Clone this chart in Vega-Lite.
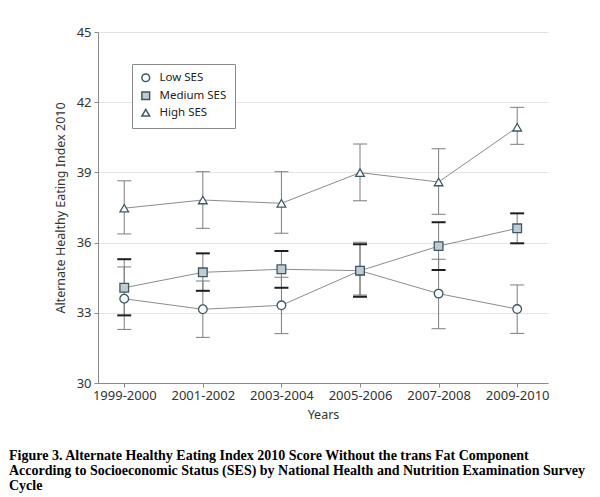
{
  "$schema": "https://vega.github.io/schema/vega-lite/v6.json",
  "width": 450,
  "height": 351,
  "autosize": "none",
  "padding": {"left": 98, "top": 32, "right": 52, "bottom": 114},
  "background": "white",
  "title": {
    "text": ["Figure 3. Alternate Healthy Eating Index 2010 Score Without the trans Fat Component", "According to Socioeconomic Status (SES) by National Health and Nutrition Examination Survey", "Cycle"],
    "orient": "bottom",
    "anchor": "start",
    "frame": "group",
    "dx": -89,
    "offset": 28,
    "font": "Liberation Serif",
    "fontSize": 14,
    "fontWeight": "bold",
    "color": "#000",
    "lineHeight": 15
  },
  "data": {
    "values": [
      {"cycle": "1999-2000", "ses": "Low SES", "value": 33.6, "lo": 32.29, "hi": 34.96},
      {"cycle": "2001-2002", "ses": "Low SES", "value": 33.15, "lo": 31.95, "hi": 34.36},
      {"cycle": "2003-2004", "ses": "Low SES", "value": 33.32, "lo": 32.11, "hi": 34.52},
      {"cycle": "2005-2006", "ses": "Low SES", "value": 34.8, "lo": 33.76, "hi": 36.01},
      {"cycle": "2007-2008", "ses": "Low SES", "value": 33.82, "lo": 32.32, "hi": 35.29},
      {"cycle": "2009-2010", "ses": "Low SES", "value": 33.16, "lo": 32.12, "hi": 34.19},
      {"cycle": "1999-2000", "ses": "Medium SES", "value": 34.07, "lo": 32.89, "hi": 35.29},
      {"cycle": "2001-2002", "ses": "Medium SES", "value": 34.73, "lo": 33.94, "hi": 35.54},
      {"cycle": "2003-2004", "ses": "Medium SES", "value": 34.86, "lo": 34.07, "hi": 35.64},
      {"cycle": "2005-2006", "ses": "Medium SES", "value": 34.8, "lo": 33.69, "hi": 35.93},
      {"cycle": "2007-2008", "ses": "Medium SES", "value": 35.85, "lo": 34.83, "hi": 36.87},
      {"cycle": "2009-2010", "ses": "Medium SES", "value": 36.61, "lo": 35.97, "hi": 37.25},
      {"cycle": "1999-2000", "ses": "High SES", "value": 37.47, "lo": 36.37, "hi": 38.64},
      {"cycle": "2001-2002", "ses": "High SES", "value": 37.82, "lo": 36.61, "hi": 39.03},
      {"cycle": "2003-2004", "ses": "High SES", "value": 37.68, "lo": 36.4, "hi": 39.03},
      {"cycle": "2005-2006", "ses": "High SES", "value": 38.99, "lo": 37.79, "hi": 40.21},
      {"cycle": "2007-2008", "ses": "High SES", "value": 38.59, "lo": 37.21, "hi": 40.01},
      {"cycle": "2009-2010", "ses": "High SES", "value": 40.93, "lo": 40.2, "hi": 41.78}
    ]
  },
  "encoding": {
    "x": {
      "field": "cycle",
      "type": "ordinal",
      "scale": {"type": "point", "padding": 0.363, "align": 0.46},
      "axis": {
        "title": "Years",
        "labelAngle": 0,
        "grid": false,
        "domainColor": "#8a8a8a",
        "tickColor": "#8a8a8a",
        "tickSize": 4,
        "labelFont": "Noto Sans",
        "labelFontSize": 13,
        "labelColor": "#333",
        "labelPadding": 2,
        "titleFont": "Noto Sans",
        "titleFontSize": 12.5,
        "titleFontWeight": "normal",
        "titleColor": "#333",
        "titlePadding": 6
      }
    },
    "y": {
      "type": "quantitative",
      "scale": {"domain": [30, 45], "nice": false, "zero": false},
      "axis": {
        "title": "Alternate Healthy Eating Index 2010",
        "values": [30, 33, 36, 39, 42, 45],
        "grid": true,
        "gridColor": "#e4e4e4",
        "domainColor": "#8a8a8a",
        "tickColor": "#8a8a8a",
        "tickSize": 4,
        "labelFont": "Noto Sans",
        "labelFontSize": 13,
        "labelColor": "#333",
        "labelPadding": 3,
        "titleFont": "Noto Sans",
        "titleFontSize": 12.5,
        "titleFontWeight": "normal",
        "titleColor": "#333",
        "titlePadding": 9
      }
    }
  },
  "layer": [
    {
      "mark": {"type": "line", "color": "#8c8c8c", "strokeWidth": 1},
      "encoding": {
        "y": {"field": "value", "type": "quantitative"},
        "detail": {"field": "ses"}
      }
    },
    {
      "mark": {"type": "rule", "color": "#7d7d7d", "strokeWidth": 1},
      "encoding": {
        "y": {"field": "lo", "type": "quantitative"},
        "y2": {"field": "hi"}
      }
    },
    {
      "transform": [
        {"fold": ["lo", "hi"], "as": ["bound", "bval"]},
        {"filter": "datum.ses !== 'Medium SES'"}
      ],
      "mark": {"type": "tick", "color": "#7d7d7d", "thickness": 1, "size": 14, "orient": "horizontal", "opacity": 1},
      "encoding": {
        "y": {"field": "bval", "type": "quantitative"}
      }
    },
    {
      "transform": [
        {"fold": ["lo", "hi"], "as": ["bound", "bval"]},
        {"filter": "datum.ses === 'Medium SES'"}
      ],
      "mark": {"type": "tick", "color": "#1e1e1e", "thickness": 2, "size": 14, "orient": "horizontal", "opacity": 1},
      "encoding": {
        "y": {"field": "bval", "type": "quantitative"}
      }
    },
    {
      "mark": {"type": "point", "stroke": "#3d5865", "strokeWidth": 1.3, "size": 75, "opacity": 1, "fillOpacity": 1, "filled": false},
      "encoding": {
        "y": {"field": "value", "type": "quantitative"},
        "shape": {
          "field": "ses",
          "type": "nominal",
          "scale": {"domain": ["Low SES", "Medium SES", "High SES"], "range": ["circle", "square", "triangle-up"]},
          "legend": {
            "title": null,
            "encode": {"symbols": {"update": {"stroke": {"value": "#3d5865"}, "strokeWidth": {"value": 1.3}, "opacity": {"value": 1}}}}
          }
        },
        "fill": {
          "field": "ses",
          "type": "nominal",
          "scale": {"domain": ["Low SES", "Medium SES", "High SES"], "range": ["#ffffff", "#c3cbd2", "#ffffff"]},
          "legend": {
            "title": null,
            "encode": {"symbols": {"update": {"stroke": {"value": "#3d5865"}, "strokeWidth": {"value": 1.3}, "opacity": {"value": 1}}}}
          }
        }
      }
    }
  ],
  "config": {
    "view": {"stroke": null},
    "legend": {
      "orient": "none",
      "legendX": 34,
      "legendY": 32,
      "padding": 8,
      "strokeColor": "#8a8a8a",
      "fillColor": "#ffffff",
      "labelFont": "Noto Sans",
      "labelFontSize": 11.5,
      "labelColor": "#222",
      "rowPadding": 3,
      "symbolSize": 60,
      "labelOffset": 8
    }
  }
}
